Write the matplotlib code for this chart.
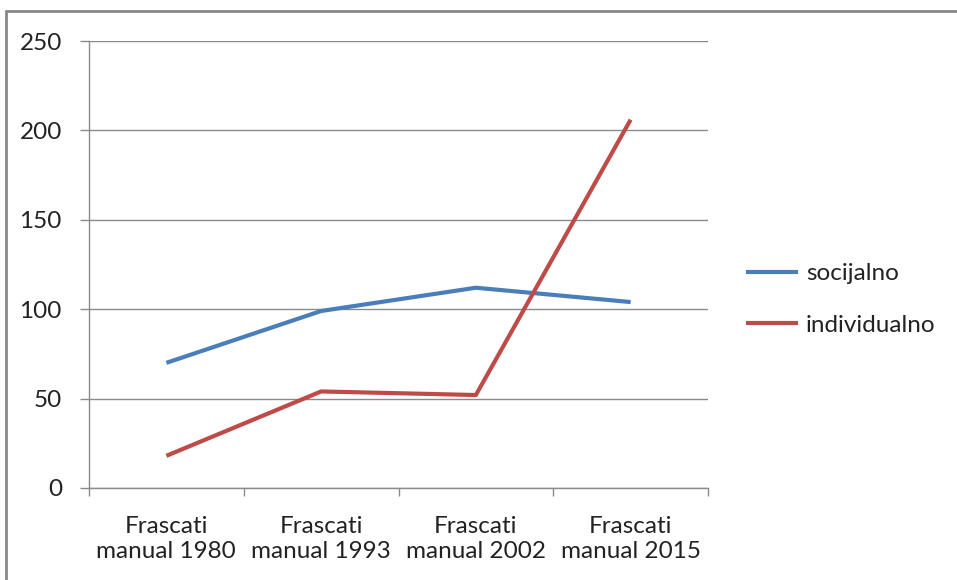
import matplotlib
matplotlib.use("Agg")
import matplotlib.pyplot as plt
from matplotlib.patches import Rectangle

# ---------------------------
# Data
# ---------------------------

categories = ["Frascati\nmanual 1980", "Frascati\nmanual 1993",
              "Frascati\nmanual 2002", "Frascati\nmanual 2015"]
socijalno = [70, 99, 112, 104]
individualno = [18, 54, 52, 206]
y_ticks = [0, 50, 100, 150, 200, 250]

plt.rcParams['font.family'] = ['Lato', 'DejaVu Sans']
FS = 17.5

fig = plt.figure(figsize=(9.57, 5.8), dpi=100)
ax = fig.add_axes([89 / 957, 1 - 488 / 580, (708 - 89) / 957, (488 - 41) / 580])

x = list(range(len(categories)))
ax.plot(x, socijalno, color="#4A7EBB", lw=3, label="socijalno", solid_capstyle="butt")
ax.plot(x, individualno, color="#BE4B48", lw=3, label="individualno", solid_capstyle="butt")

ax.set_xlim(-0.5, len(categories) - 0.5)
ax.set_ylim(0, 250)
ax.set_yticks(y_ticks)
ax.set_yticklabels([str(v) for v in y_ticks], fontsize=FS, color="#222222")
ax.grid(axis="y", color="#8a8a8a", lw=1)
ax.set_axisbelow(True)

# category labels centred, ticks at the boundaries
ax.set_xticks(x)
ax.set_xticklabels(categories, fontsize=FS, color="#222222", linespacing=1.25)
ax.tick_params(axis="x", which="major", length=0, pad=20)
ax.set_xticks([i - 0.5 for i in range(len(categories) + 1)], minor=True)
ax.tick_params(axis="x", which="minor", length=5.8, color="#8a8a8a", width=1)
ax.tick_params(axis="y", length=6.5, color="#8a8a8a", width=1, pad=13)

for side in ["top", "right"]:
    ax.spines[side].set_visible(False)
for side in ["left", "bottom"]:
    ax.spines[side].set_color("#8a8a8a")
    ax.spines[side].set_linewidth(1)

leg = ax.legend(loc="center left", bbox_to_anchor=(1.026, 0.422), frameon=False,
                fontsize=FS, handlelength=2.14, handletextpad=0.33, labelspacing=1.25)
for t in leg.get_texts():
    t.set_color("#222222")

# outer chart border
fig.patches.append(Rectangle((6 / 957, -0.1), 1.1, 1 - 11 / 580 + 0.1,
                             transform=fig.transFigure, fill=False,
                             edgecolor="#878787", lw=2))

fig.savefig("out.png", dpi=100)
